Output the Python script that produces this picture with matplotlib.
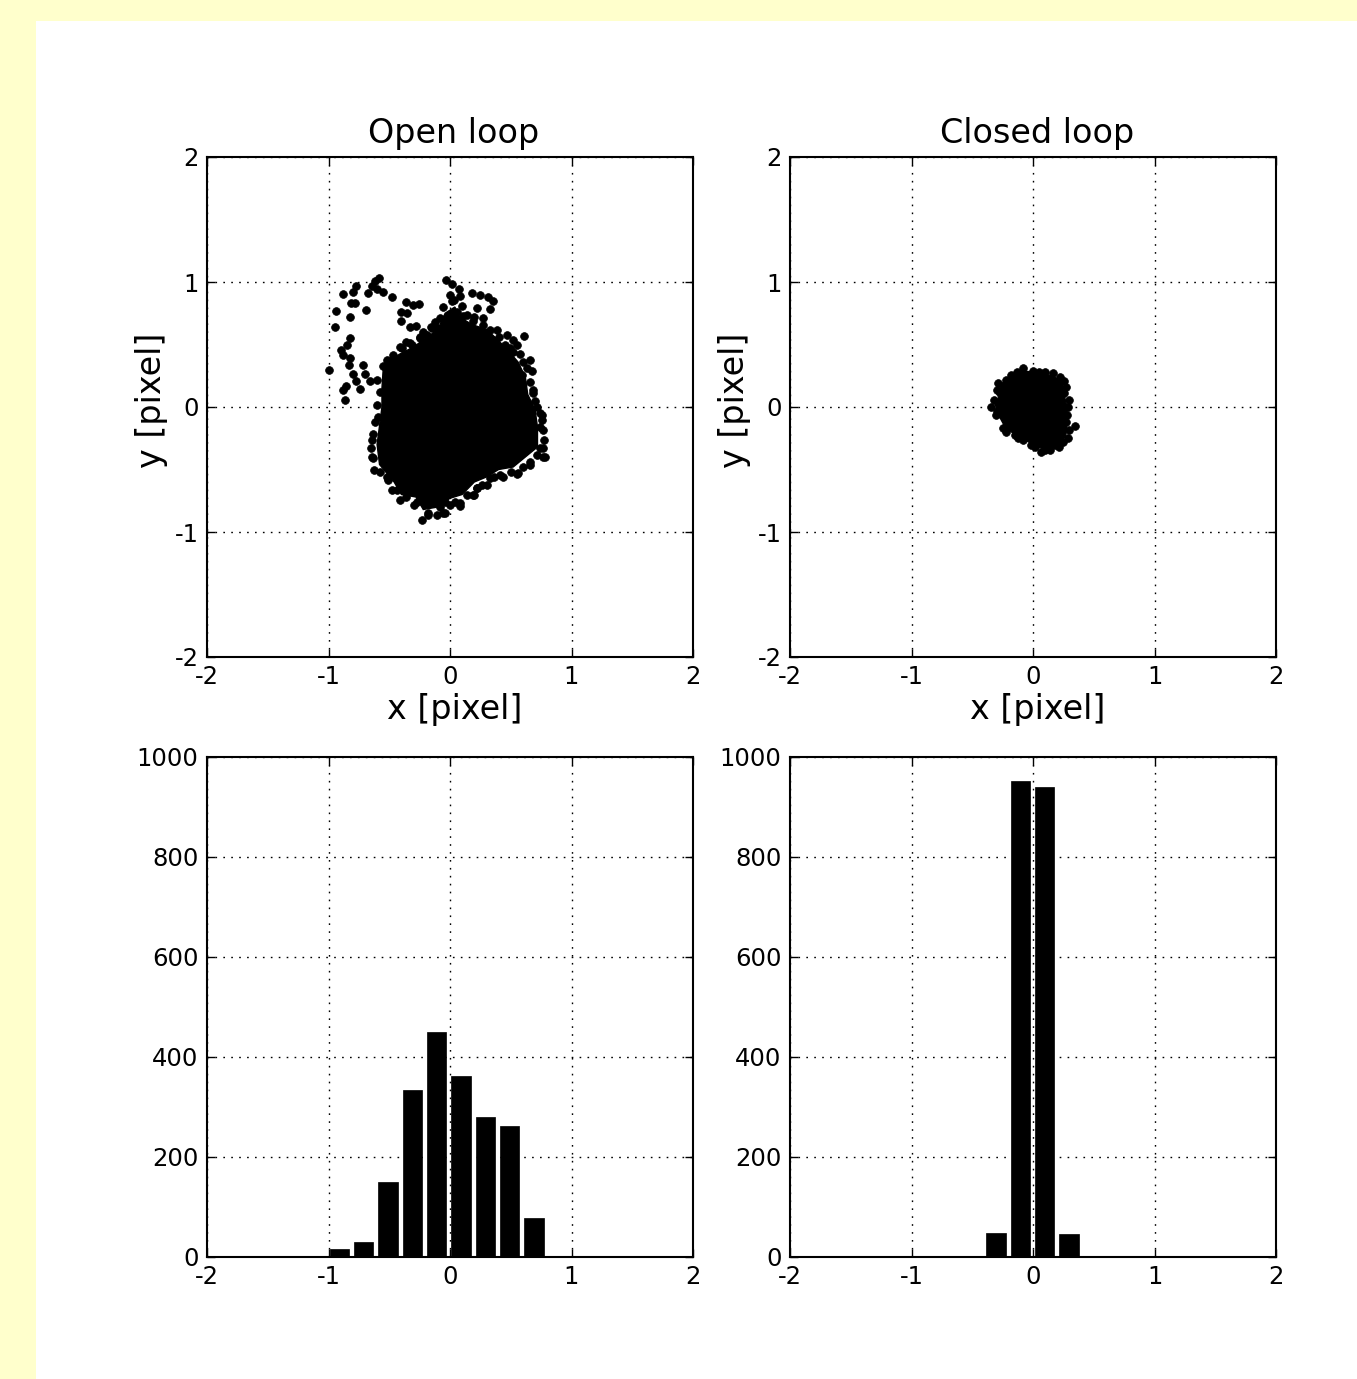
import matplotlib
matplotlib.use("Agg")
import matplotlib.pyplot as plt
from matplotlib.patches import Rectangle

plt.rcParams['axes.unicode_minus'] = False
plt.rcParams['font.family'] = 'DejaVu Sans'

# scattered points of the open loop cloud
open_x = [-0.582, -0.617, -0.774, -0.796, -0.878, -0.644, -0.672, -0.598, -0.554, -0.48,
          -0.817, -0.779, -0.938, -0.694, -0.823, -0.944, -0.362, -0.302, -0.258, -0.406,
          -0.351, -0.403, -0.329, -0.28, -0.823, -0.845, -0.9, -0.878, -0.823, -0.993,
          -0.829, -0.796, -0.714, -0.7, -0.856, -0.774, -0.658, -0.521, -0.48, -0.398,
          -0.356, -0.315, -0.247, -0.192, -0.151, -0.52, -0.41, -0.33, -0.25, -0.16,
          -0.864, -0.883, -0.741, -0.59, -0.631, -0.65, -0.631, -0.623, -0.508, -0.48,
          -0.412, -0.274, -0.233, -0.179, -0.11, -0.041, 0.0, 0.082, 0.198, 0.219,
          0.302, 0.439, 0.554, 0.658, 0.768, 0.768, 0.741, 0.754, 0.713, 0.68,
          -0.033, 0.014, 0.077, 0.0, 0.082, 0.178, 0.247, 0.315, 0.356, 0.329,
          0.014, 0.096, 0.11, 0.22, 0.274, 0.384, 0.466, 0.521, 0.609, 0.554,
          0.494, 0.576, 0.658, 0.631, 0.672, 0.59, 0.686, -0.082, -0.11, 0.192,
          0.741, 0.768, 0.741, 0.782, 0.658, 0.562, 0.466, 0.412, 0.329, 0.22,
          0.192, 0.082, -0.041, -0.055, 0.658,
          -0.55, -0.47, -0.43, -0.36, -0.28, -0.22, -0.12, -0.06, 0.03, 0.06,
          0.14, 0.20, 0.27, 0.33, 0.40, 0.45, 0.52, 0.60, 0.66, 0.70,
          0.76, 0.77, 0.72, 0.60, 0.50, 0.36, 0.26, 0.14, 0.04, -0.08,
          -0.18, -0.30, -0.36, -0.44, -0.52, -0.58, -0.64, -0.64, -0.62, -0.60,
          -0.58, -0.60]
open_y = [1.032, 1.01, 0.966, 0.92, 0.904, 0.966, 0.912, 0.946, 0.92, 0.878,
          0.834, 0.834, 0.77, 0.778, 0.722, 0.642, 0.84, 0.813, 0.824, 0.76,
          0.752, 0.685, 0.638, 0.645, 0.552, 0.498, 0.458, 0.418, 0.392, 0.298,
          0.338, 0.264, 0.338, 0.264, 0.166, 0.206, 0.206, 0.338, 0.378, 0.472,
          0.418, 0.498, 0.552, 0.578, 0.632, 0.376, 0.48, 0.51, 0.56, 0.64,
          0.056, 0.136, 0.144, -0.078, -0.219, -0.325, -0.405, -0.504, -0.584, -0.664,
          -0.744, -0.757, -0.904, -0.85, -0.864, -0.845, -0.784, -0.792, -0.704, -0.65,
          -0.624, -0.557, -0.536, -0.464, -0.397, -0.33, -0.157, -0.064, 0.002, 0.11,
          1.018, 0.984, 0.946, 0.898, 0.885, 0.912, 0.893, 0.878, 0.845, 0.786,
          0.845, 0.805, 0.725, 0.792, 0.712, 0.618, 0.578, 0.538, 0.565, 0.493,
          0.472, 0.424, 0.378, 0.312, 0.285, 0.258, 0.138, 0.712, 0.632, 0.685,
          -0.05, -0.184, -0.33, -0.397, -0.437, -0.53, -0.437, -0.544, -0.57, -0.65,
          -0.704, -0.77, -0.757, -0.85, -0.277,
          0.33, 0.42, 0.35, 0.52, 0.45, 0.60, 0.68, 0.80, 0.86, 0.76,
          0.74, 0.72, 0.66, 0.62, 0.56, 0.50, 0.44, 0.36, 0.20, 0.05,
          -0.10, -0.26, -0.38, -0.48, -0.52, -0.56, -0.62, -0.70, -0.76, -0.80,
          -0.86, -0.78, -0.72, -0.66, -0.56, -0.52, -0.40, -0.26, -0.12, 0.02,
          0.12, 0.22]

# outline of the solid (saturated) core of the open loop cloud
open_core_x = [-0.55, -0.42, -0.30, -0.20, -0.10, -0.04, 0.04, 0.08, 0.18, 0.30,
               0.38, 0.48, 0.56, 0.62, 0.64, 0.70, 0.72, 0.72, 0.62, 0.52,
               0.40, 0.30, 0.20, 0.10, 0.0, -0.10, -0.22, -0.28, -0.40, -0.46,
               -0.58, -0.60, -0.58, -0.56, -0.56]
open_core_y = [0.30, 0.42, 0.48, 0.55, 0.62, 0.75, 0.80, 0.72, 0.66, 0.62,
               0.55, 0.45, 0.36, 0.24, 0.10, -0.02, -0.16, -0.32, -0.40, -0.48,
               -0.50, -0.56, -0.60, -0.70, -0.73, -0.80, -0.82, -0.72, -0.70, -0.60,
               -0.46, -0.30, -0.15, 0.0, 0.15]

# closed loop cloud: edge points and solid core
closed_x = [-0.343, -0.308, -0.248, -0.152, -0.084, -0.015, 0.067, 0.136, 0.218, 0.286,
            0.349, 0.272, 0.286, 0.259, 0.259, 0.163, 0.053, -0.084, -0.179, -0.289,
            -0.275, -0.275,
            -0.32, -0.30, -0.22, -0.12, 0.02, 0.10, 0.18, 0.25, 0.30, 0.28,
            0.30, 0.27, 0.22, 0.10, 0.0, -0.13, -0.22, -0.30]
closed_y = [0.002, -0.064, -0.17, -0.224, -0.264, -0.304, -0.357, -0.344, -0.317, -0.251,
            -0.152, -0.117, 0.002, 0.11, 0.21, 0.27, 0.282, 0.31, 0.256, 0.19,
            0.11, 0.03,
            0.06, -0.03, -0.20, -0.25, -0.32, -0.34, -0.30, -0.28, -0.18, -0.06,
            0.06, 0.16, 0.24, 0.28, 0.29, 0.28, 0.22, 0.14]
closed_core_x = [-0.31, -0.28, -0.23, -0.15, -0.07, 0.0, 0.07, 0.15, 0.22, 0.27,
                 0.28, 0.28, 0.25, 0.24, 0.16, 0.05, -0.08, -0.18, -0.27, -0.27]
closed_core_y = [0.02, -0.07, -0.16, -0.22, -0.26, -0.30, -0.33, -0.32, -0.29, -0.23,
                 -0.12, 0.0, 0.12, 0.20, 0.25, 0.27, 0.29, 0.24, 0.18, 0.10]

# histograms of x position (bin left edges and counts)
open_bin_left = [-0.99, -0.79, -0.59, -0.39, -0.19, 0.01, 0.21, 0.41, 0.61]
open_counts = [17, 31, 150, 335, 451, 363, 281, 263, 78]
closed_bin_left = [-0.385, -0.185, 0.015, 0.215]
closed_counts = [49, 952, 940, 46]
bar_width = 0.16

W, H = 1357, 1379
fig = plt.figure(figsize=(W / 100, H / 100), dpi=100)
fig.patch.set_facecolor('#ffffcc')
fig.patches.append(Rectangle((36 / W, 0), 1 - 36 / W, 1 - 21 / H, transform=fig.transFigure,
                             facecolor='white', edgecolor='none', zorder=-5))


def style(ax, ticks):
    ax.set_xlim(-2, 2)
    ax.set_xticks([-2, -1, 0, 1, 2])
    ax.set_yticks(ticks)
    ax.grid(True, color='k', linestyle=(0, (1.2, 4.5)), linewidth=1.0)
    ax.set_axisbelow(True)
    ax.tick_params(direction='in', top=True, right=True, length=6, width=1,
                   labelsize=17.5, pad=6)
    for s in ax.spines.values():
        s.set_linewidth(1.5)


axl = [207, 790]
axw = 486
ax_tl = fig.add_axes([axl[0] / W, 1 - 657 / H, axw / W, 500 / H])
ax_tr = fig.add_axes([axl[1] / W, 1 - 657 / H, axw / W, 500 / H])
ax_bl = fig.add_axes([axl[0] / W, 1 - 1257 / H, axw / W, 500 / H])
ax_br = fig.add_axes([axl[1] / W, 1 - 1257 / H, axw / W, 500 / H])

for ax, px, py, cx, cy, title in [(ax_tl, open_x, open_y, open_core_x, open_core_y, 'Open loop'),
                                  (ax_tr, closed_x, closed_y, closed_core_x, closed_core_y, 'Closed loop')]:
    ax.fill(cx, cy, color='k', zorder=3)
    ax.plot(px, py, 'o', color='k', ms=5.6, mec='k', mew=0.5, zorder=4)
    style(ax, [-2, -1, 0, 1, 2])
    ax.set_ylim(-2, 2)
    ax.set_title(title, fontsize=24, pad=10, x=0.508)
    ax.set_xlabel('x [pixel]', fontsize=24)
    ax.set_ylabel('y [pixel]', fontsize=24)
    ax.xaxis.set_label_coords(0.509, -0.072)
    ax.yaxis.set_label_coords(-0.080, 0.514)

for ax, left, counts in [(ax_bl, open_bin_left, open_counts),
                         (ax_br, closed_bin_left, closed_counts)]:
    ax.bar(left, counts, width=bar_width, align='edge', color='k', edgecolor='k',
           linewidth=0.5, zorder=3)
    style(ax, [0, 200, 400, 600, 800, 1000])
    ax.set_ylim(0, 1000)

fig.savefig('out.png', dpi=100, facecolor=fig.get_facecolor())
